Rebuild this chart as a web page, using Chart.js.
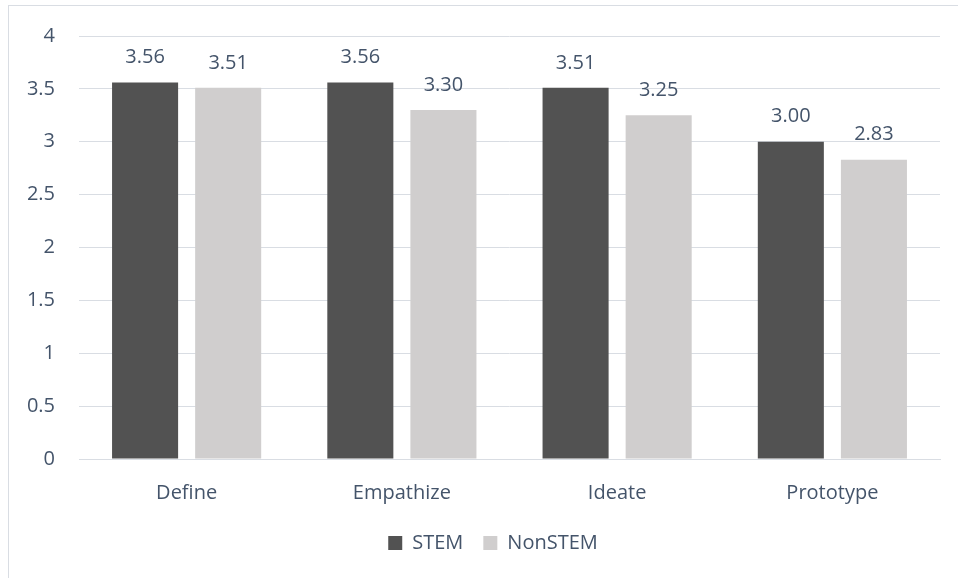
<!DOCTYPE html>
<html>
<head>
<meta charset="utf-8">
<script src="https://cdn.jsdelivr.net/npm/chart.js@4.4.1/dist/chart.umd.min.js"></script>
<style>
  html, body { margin: 0; padding: 0; background: #fff; overflow: hidden; }
  #frame { position: absolute; left: 8px; top: 5px; width: 980px; height: 600px; border: 1px solid #d9dde3; }
  #wrap { position: absolute; left: 0; top: 0; width: 958px; height: 578px; }
</style>
</head>
<body>
<div id="frame"></div>
<div id="wrap"><canvas id="chart" width="958" height="578"></canvas></div>
<script>
  'use strict';

  var categories = ['Define', 'Empathize', 'Ideate', 'Prototype'];
  var stemValues = [3.56, 3.56, 3.51, 3.00];
  var nonStemValues = [3.51, 3.30, 3.25, 2.83];
  var seriesNames = ['STEM', 'NonSTEM'];

  var textColor = '#44546a';
  var gridColor = '#d9dde3';
  var fontFamily = '"Open Sans", "Noto Sans", sans-serif';
  var fontSize = 20;

  // draws the value above each bar
  var valueLabels = {
    id: 'valueLabels',
    afterDatasetsDraw: function (chart) {
      var ctx = chart.ctx;
      ctx.save();
      ctx.fillStyle = textColor;
      ctx.font = fontSize + 'px ' + fontFamily;
      ctx.textAlign = 'center';
      ctx.textBaseline = 'middle';
      chart.data.datasets.forEach(function (ds, i) {
        chart.getDatasetMeta(i).data.forEach(function (bar, j) {
          ctx.fillText(ds.data[j].toFixed(2), bar.x, bar.y - 25);
        });
      });
      ctx.restore();
    }
  };

  // legend sits a bit right of the canvas centre, like the original
  var legendShift = {
    id: 'legendShift',
    afterLayout: function (chart) {
      chart.legend.left += 23;
      chart.legend.right += 23;
    }
  };

  var ctx = document.getElementById('chart').getContext('2d');
  new Chart(ctx, {
    type: 'bar',
    data: {
      labels: categories,
      datasets: [
        { label: seriesNames[0], data: stemValues, backgroundColor: '#525252' },
        { label: seriesNames[1], data: nonStemValues, backgroundColor: '#d0cece' }
      ]
    },
    options: {
      responsive: false,
      animation: false,
      categoryPercentage: 0.772,
      barPercentage: 0.795,
      layout: { padding: { left: 0, right: 18, top: 33, bottom: 15 } },
      scales: {
        x: {
          grid: { display: false },
          border: { color: gridColor },
          ticks: { color: textColor, font: { family: fontFamily, size: fontSize }, padding: 14 },
          afterFit: function (scale) { scale.height = 54; }
        },
        y: {
          min: 0,
          max: 4,
          ticks: {
            stepSize: 0.5,
            color: textColor,
            font: { family: fontFamily, size: fontSize },
            padding: 24,
            callback: function (v) { return String(v); }
          },
          grid: { color: gridColor, drawTicks: false },
          border: { display: false },
          afterFit: function (scale) { scale.width = 79; }
        }
      },
      plugins: {
        tooltip: { enabled: false },
        legend: {
          position: 'bottom',
          labels: {
            color: textColor,
            font: { family: fontFamily, size: fontSize },
            boxWidth: 14,
            boxHeight: 14,
            padding: 20
          }
        }
      }
    },
    plugins: [valueLabels, legendShift]
  });
</script>
</body>
</html>
